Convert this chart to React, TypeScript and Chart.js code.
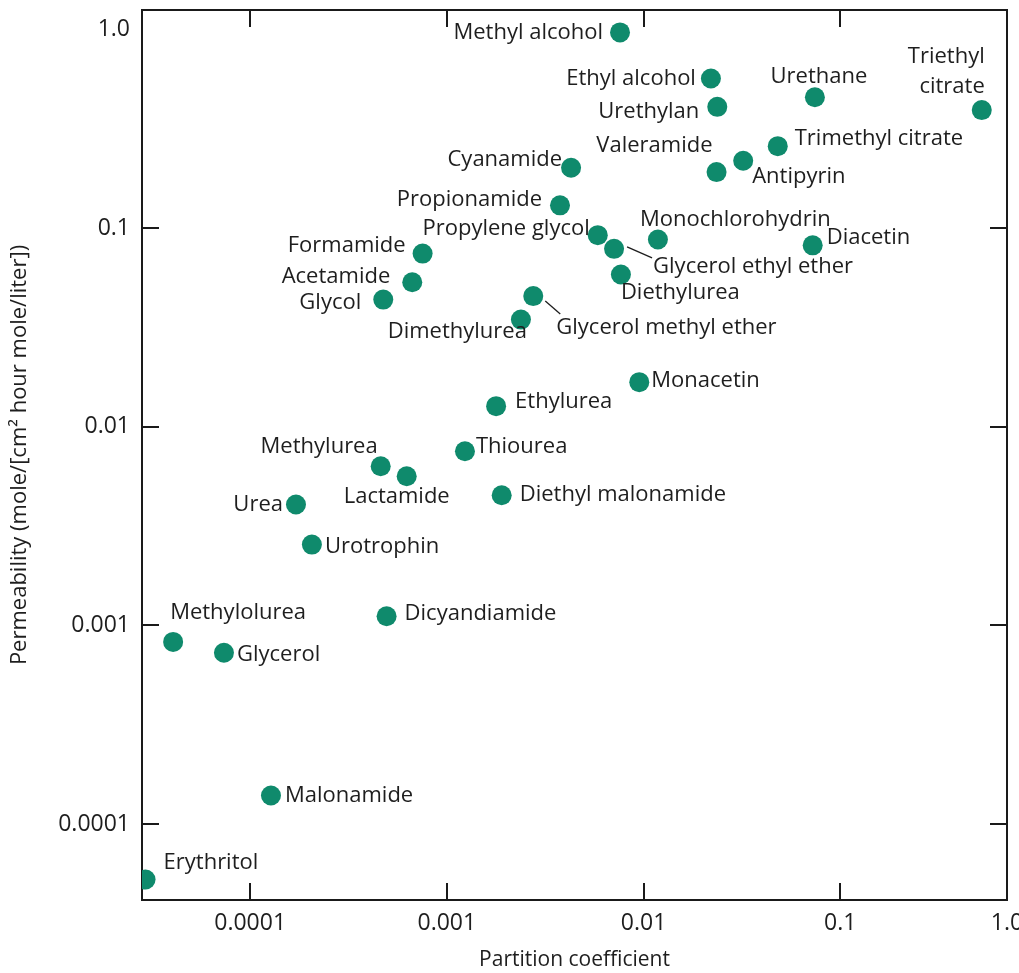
import React, { useEffect, useRef } from "react";
import { Chart, registerables } from "chart.js";

Chart.register(...registerables);

// ---------- data ----------
const compounds = [
  "Methyl alcohol", "Ethyl alcohol", "Urethylan", "Urethane", "Triethyl\ncitrate",
  "Trimethyl citrate", "Antipyrin", "Valeramide", "Cyanamide", "Propionamide",
  "Propylene glycol", "Glycerol ethyl ether", "Diethylurea", "Monochlorohydrin", "Diacetin",
  "Formamide", "Acetamide", "Glycol", "Glycerol methyl ether", "Dimethylurea",
  "Monacetin", "Ethylurea", "Thiourea", "Methylurea", "Lactamide",
  "Diethyl malonamide", "Dicyandiamide", "Urea", "Urotrophin", "Methylolurea",
  "Glycerol", "Malonamide", "Erythritol",
];

const partitionCoefficient = [
  0.00759, 0.0220, 0.0237, 0.0743, 0.524,
  0.0481, 0.0321, 0.0235, 0.00428, 0.00376,
  0.00585, 0.00708, 0.00767, 0.01183, 0.0724,
  0.000753, 0.000667, 0.000475, 0.00275, 0.00238,
  0.00951, 0.00178, 0.001236, 0.000461, 0.000625,
  0.00190, 0.000494, 0.000171, 0.000206, 0.0000406,
  0.0000736, 0.0001276, 0.0000294,
];

const permeability = [
  0.964, 0.565, 0.407, 0.455, 0.392,
  0.258, 0.218, 0.191, 0.201, 0.130,
  0.0920, 0.0785, 0.0583, 0.0875, 0.0818,
  0.0743, 0.0533, 0.0436, 0.0454, 0.0346,
  0.01675, 0.01268, 0.00752, 0.00632, 0.00563,
  0.00452, 0.001112, 0.00406, 0.00255, 0.000826,
  0.000728, 0.0001393, 0.0000526,
];

const X_MIN = 0.0000282;
const X_MAX = 0.704;
const Y_MIN = 0.0000415;
const Y_MAX = 1.25;

const xTickValues = [0.0001, 0.001, 0.01, 0.1, X_MAX];
const xTickLabels = ["0.0001", "0.001", "0.01", "0.1", "1.0"];
const yTickValues = [0.0001, 0.001, 0.01, 0.1, 1.0];
const yTickLabels = ["0.0001", "0.001", "0.01", "0.1", "1.0"];
const xMarkValues = [0.0001, 0.001, 0.01, 0.1];
const yMarkValues = [0.0001, 0.001, 0.01, 0.1];

const xTitle = "Partition coefficient";
const yTitle = "Permeability (mole/[cm² hour mole/liter])";

// ---------- label placement (pixel offsets from the dot; styling only) ----------
type Place = { dx: number; dy: number; align: CanvasTextAlign; lead?: [number, number, number, number] };
const labelPlacement: Place[] = [
  { dx: -17, dy: 0, align: "right" },
  { dx: -15, dy: 0, align: "right" },
  { dx: -18, dy: 5, align: "right" },
  { dx: 4, dy: -20, align: "center" },
  { dx: 3, dy: -53, align: "right" },
  { dx: 17, dy: -7, align: "left" },
  { dx: 9, dy: 16, align: "left" },
  { dx: -4, dy: -26, align: "right" },
  { dx: -9, dy: -8, align: "right" },
  { dx: -18, dy: -6, align: "right" },
  { dx: -8, dy: -6, align: "right" },
  { dx: 39, dy: 18, align: "left", lead: [13, -2, 38, 9] },
  { dx: 0, dy: 18, align: "left" },
  { dx: -18, dy: -20, align: "left" },
  { dx: 14, dy: -8, align: "left" },
  { dx: -17, dy: -8, align: "right" },
  { dx: -22, dy: -6, align: "right" },
  { dx: -22, dy: 3, align: "right" },
  { dx: 23, dy: 32, align: "left", lead: [12, 5, 27, 18] },
  { dx: 6, dy: 12, align: "right" },
  { dx: 12, dy: -1, align: "left" },
  { dx: 19, dy: -4, align: "left" },
  { dx: 11, dy: -5, align: "left" },
  { dx: -3, dy: -20, align: "right" },
  { dx: -10, dy: 20, align: "center" },
  { dx: 18, dy: 0, align: "left" },
  { dx: 18, dy: -2, align: "left" },
  { dx: -13, dy: 0, align: "right" },
  { dx: 13, dy: 2, align: "left" },
  { dx: -3, dy: -29, align: "left" },
  { dx: 13, dy: 2, align: "left" },
  { dx: 14, dy: 0, align: "left" },
  { dx: 18, dy: -17, align: "left" },
];

const FONT_FAMILY = "'Open Sans', 'Noto Sans', sans-serif";
const TEXT_COLOR = "#1e1e1e";
const DOT_COLOR = "#0f8a6c";
const AXIS_COLOR = "#1a1a1a";
const TICK_LEN = 17;
const LABEL_SIZE = 22;
const TICK_SIZE = 23;
const LINE_GAP = 30;

const decorPlugin = {
  id: "decor",
  beforeDatasetsDraw(chart: any) {
    const { ctx, chartArea: a, scales } = chart;
    const x = scales.x;
    const y = scales.y;
    ctx.save();
    ctx.strokeStyle = AXIS_COLOR;
    ctx.lineWidth = 2;
    ctx.strokeRect(a.left, a.top, a.right - a.left, a.bottom - a.top);
    ctx.beginPath();
    for (const v of xMarkValues) {
      const px = Math.round(x.getPixelForValue(v));
      ctx.moveTo(px, a.bottom);
      ctx.lineTo(px, a.bottom - TICK_LEN);
      ctx.moveTo(px, a.top);
      ctx.lineTo(px, a.top + TICK_LEN);
    }
    for (const v of yMarkValues) {
      const py = Math.round(y.getPixelForValue(v));
      ctx.moveTo(a.left, py);
      ctx.lineTo(a.left + TICK_LEN, py);
      ctx.moveTo(a.right, py);
      ctx.lineTo(a.right - TICK_LEN, py);
    }
    ctx.stroke();
    ctx.restore();
  },
  afterDatasetsDraw(chart: any) {
    const { ctx } = chart;
    const meta = chart.getDatasetMeta(0);
    ctx.save();
    ctx.fillStyle = TEXT_COLOR;
    ctx.strokeStyle = TEXT_COLOR;
    ctx.lineWidth = 1.3;
    ctx.font = `${LABEL_SIZE}px ${FONT_FAMILY}`;
    ctx.textBaseline = "middle";
    meta.data.forEach((pt: any, i: number) => {
      const p = labelPlacement[i];
      if (!p) return;
      const lines = compounds[i].split("\n");
      ctx.textAlign = p.align;
      lines.forEach((line, k) => {
        ctx.fillText(line, pt.x + p.dx, pt.y + p.dy + k * LINE_GAP);
      });
      if (p.lead) {
        ctx.beginPath();
        ctx.moveTo(pt.x + p.lead[0], pt.y + p.lead[1]);
        ctx.lineTo(pt.x + p.lead[2], pt.y + p.lead[3]);
        ctx.stroke();
      }
    });
    ctx.restore();
  },
};

export default function App() {
  const canvasRef = useRef<HTMLCanvasElement | null>(null);

  useEffect(() => {
    if (!canvasRef.current) return;
    const tickFont = { family: FONT_FAMILY, size: TICK_SIZE };
    const chart = new Chart(canvasRef.current, {
      type: "scatter",
      data: {
        datasets: [
          {
            data: partitionCoefficient.map((v, i) => ({ x: v, y: permeability[i] })),
            backgroundColor: DOT_COLOR,
            borderWidth: 0,
            pointRadius: 10,
            pointHoverRadius: 10,
          },
        ],
      },
      options: {
        animation: false,
        responsive: true,
        maintainAspectRatio: false,
        events: [],
        layout: { padding: { top: 10, right: 12, bottom: 0, left: 0 } },
        plugins: { legend: { display: false }, tooltip: { enabled: false } },
        scales: {
          x: {
            type: "logarithmic",
            min: X_MIN,
            max: X_MAX,
            grid: { display: false, drawTicks: false },
            border: { display: false },
            afterBuildTicks: (s: any) => {
              s.ticks = xTickValues.map((v) => ({ value: v }));
            },
            ticks: {
              autoSkip: false,
              maxRotation: 0,
              padding: 10,
              color: TEXT_COLOR,
              font: tickFont,
              callback: (_v: any, i: number) => xTickLabels[i],
            },
            title: {
              display: true,
              text: xTitle,
              color: TEXT_COLOR,
              font: { family: FONT_FAMILY, size: 21 },
              padding: { top: 0, bottom: 0 },
            },
            afterFit: (s: any) => {
              s.height = 73;
              s.paddingLeft = 0;
              s.paddingRight = 0;
            },
          } as any,
          y: {
            type: "logarithmic",
            min: Y_MIN,
            max: Y_MAX,
            grid: { display: false, drawTicks: false },
            border: { display: false },
            afterBuildTicks: (s: any) => {
              s.ticks = yTickValues.map((v) => ({ value: v }));
            },
            ticks: {
              autoSkip: false,
              padding: 12,
              color: TEXT_COLOR,
              font: tickFont,
              callback: (_v: any, i: number) => yTickLabels[i],
            },
            title: {
              display: true,
              text: yTitle,
              color: TEXT_COLOR,
              font: { family: FONT_FAMILY, size: 22 },
              padding: { top: 7, bottom: 0 },
            },
            afterFit: (s: any) => {
              s.width = 142;
              s.paddingTop = 0;
              s.paddingBottom = 0;
            },
          } as any,
        },
      },
      plugins: [decorPlugin],
    });
    return () => chart.destroy();
  }, []);

  return (
    <div style={{ position: "fixed", left: 0, top: 0, width: 1019, height: 973, background: "#fff" }}>
      <canvas ref={canvasRef} />
    </div>
  );
}
